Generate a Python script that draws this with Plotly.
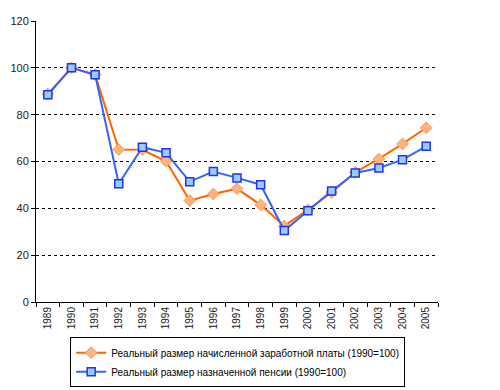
import plotly.graph_objects as go

years = [str(y) for y in range(1989, 2006)]
wages = [88.8, 100, 97.1, 65.1, 65.0, 60.1, 43.3, 46.1, 48.4, 41.5, 32.5, 39.4, 46.8, 55.4, 61.1, 67.5, 74.4]
pensions = [88.5, 100, 97.0, 50.5, 66.1, 63.7, 51.4, 55.7, 53.0, 50.1, 30.5, 39.0, 47.4, 55.1, 57.2, 60.8, 66.5]
name_w = "Реальный размер начисленной заработной платы (1990=100)"
name_p = "Реальный размер назначенной пенсии (1990=100)"

fig = go.Figure()
fig.add_trace(go.Scatter(
    x=years, y=wages, name=name_w, mode="lines+markers",
    line=dict(color="#FF6600", width=2),
    marker=dict(symbol="diamond", size=9, color="#FFB27A", line=dict(color="#FF9955", width=1)),
))
fig.add_trace(go.Scatter(
    x=years, y=pensions, name=name_p, mode="lines+markers",
    line=dict(color="#3366FF", width=2),
    marker=dict(symbol="square", size=8, color="#99CCFF", line=dict(color="#2233EE", width=1.5)),
))

fig.update_layout(
    width=500, height=390,
    margin=dict(l=36, r=62, t=21, b=88, autoexpand=False),
    paper_bgcolor="white", plot_bgcolor="white",
    font=dict(family="Liberation Sans, Arial, sans-serif", size=11, color="#222222"),
    showlegend=True,
    legend=dict(
        x=0.085, y=-0.125, xanchor="left", yanchor="top",
        bordercolor="black", borderwidth=1, bgcolor="white",
        font=dict(size=10, color="black"), tracegroupgap=0, itemwidth=30,
    ),
)
fig.update_xaxes(
    type="category", range=[-0.5, 16.5], automargin=False,
    showline=True, linecolor="black", linewidth=1,
    ticks="outside", ticklen=4, tickcolor="black", tickson="boundaries",
    tickangle=-90, tickfont=dict(size=10), showgrid=False,
)
fig.update_yaxes(
    range=[0, 120], dtick=20, automargin=False,
    showline=True, linecolor="black", linewidth=1,
    ticks="outside", ticklen=4, tickcolor="black",
    showgrid=True, gridcolor="black", gridwidth=1, griddash="dot",
    zeroline=False, tickfont=dict(size=11),
)
fig.write_html(
    "out.html",
    config={"displayModeBar": False},
    post_script="document.body.style.margin='0';document.body.style.overflow='hidden';",
)
